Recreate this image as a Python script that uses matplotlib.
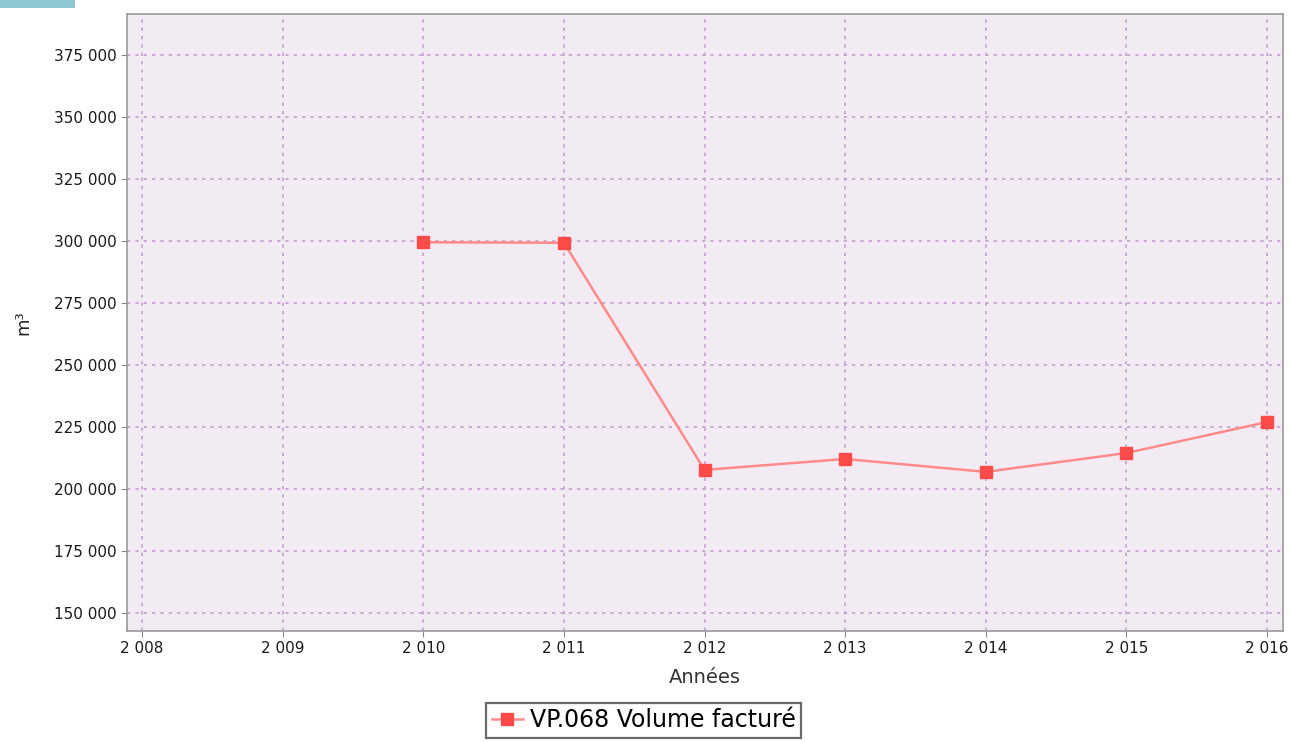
import matplotlib
matplotlib.use("Agg")
import matplotlib.pyplot as plt
from matplotlib.ticker import FuncFormatter, MultipleLocator
from matplotlib.patches import Rectangle

years = [2010, 2011, 2012, 2013, 2014, 2015, 2016]
volumes = [299500, 299300, 207700, 212100, 206900, 214500, 227000]
series_label = "VP.068 Volume facturé"

fig = plt.figure(figsize=(12.96, 7.42), dpi=100)
ax = fig.add_axes([127/1296, 1 - 631/742, (1283-127)/1296, (631-14)/742])
ax.set_facecolor("#f3ebf3")

ax.plot(years, volumes, color="#ff8a8a", linewidth=1.8, marker="s",
        markersize=9, markerfacecolor="#ff4a4a", markeredgecolor="#ff4a4a",
        label=series_label, zorder=3)

ax.set_xlim(2007.893, 2016.114)
ax.set_ylim(142742, 391532)
ax.xaxis.set_major_locator(MultipleLocator(1))
ax.yaxis.set_major_locator(MultipleLocator(25000))

def fmt(v, pos):
    return f"{int(round(v)):,}".replace(",", " ")
ax.xaxis.set_major_formatter(FuncFormatter(fmt))
ax.yaxis.set_major_formatter(FuncFormatter(fmt))

ax.grid(True, color="#c6a0cf", linestyle=(0, (2, 3)), linewidth=1.2)
ax.tick_params(axis="both", labelsize=11, color="#888888", length=4, labelcolor="#1a1a1a")
for s in ax.spines.values():
    s.set_color("#999999")
    s.set_linewidth(1.2)

ax.set_xlabel("Années", fontsize=14, color="#333333", labelpad=8)
ax.set_ylabel("m³", fontsize=13, color="#222222")
ax.yaxis.set_label_coords(-0.082, 0.5)

leg = ax.legend(loc="upper center", bbox_to_anchor=(0.447, -0.116), fontsize=17,
                frameon=True, fancybox=False, edgecolor="#444444",
                handlelength=1.3, borderpad=0.25, handletextpad=0.3,
                borderaxespad=0)
leg.get_frame().set_linewidth(1.6)

fig.patches.append(Rectangle((0, 1 - 8/742), 75/1296, 8/742, transform=fig.transFigure,
                             facecolor="#8fc7d3", edgecolor="none"))

fig.savefig("out.png", dpi=100)
